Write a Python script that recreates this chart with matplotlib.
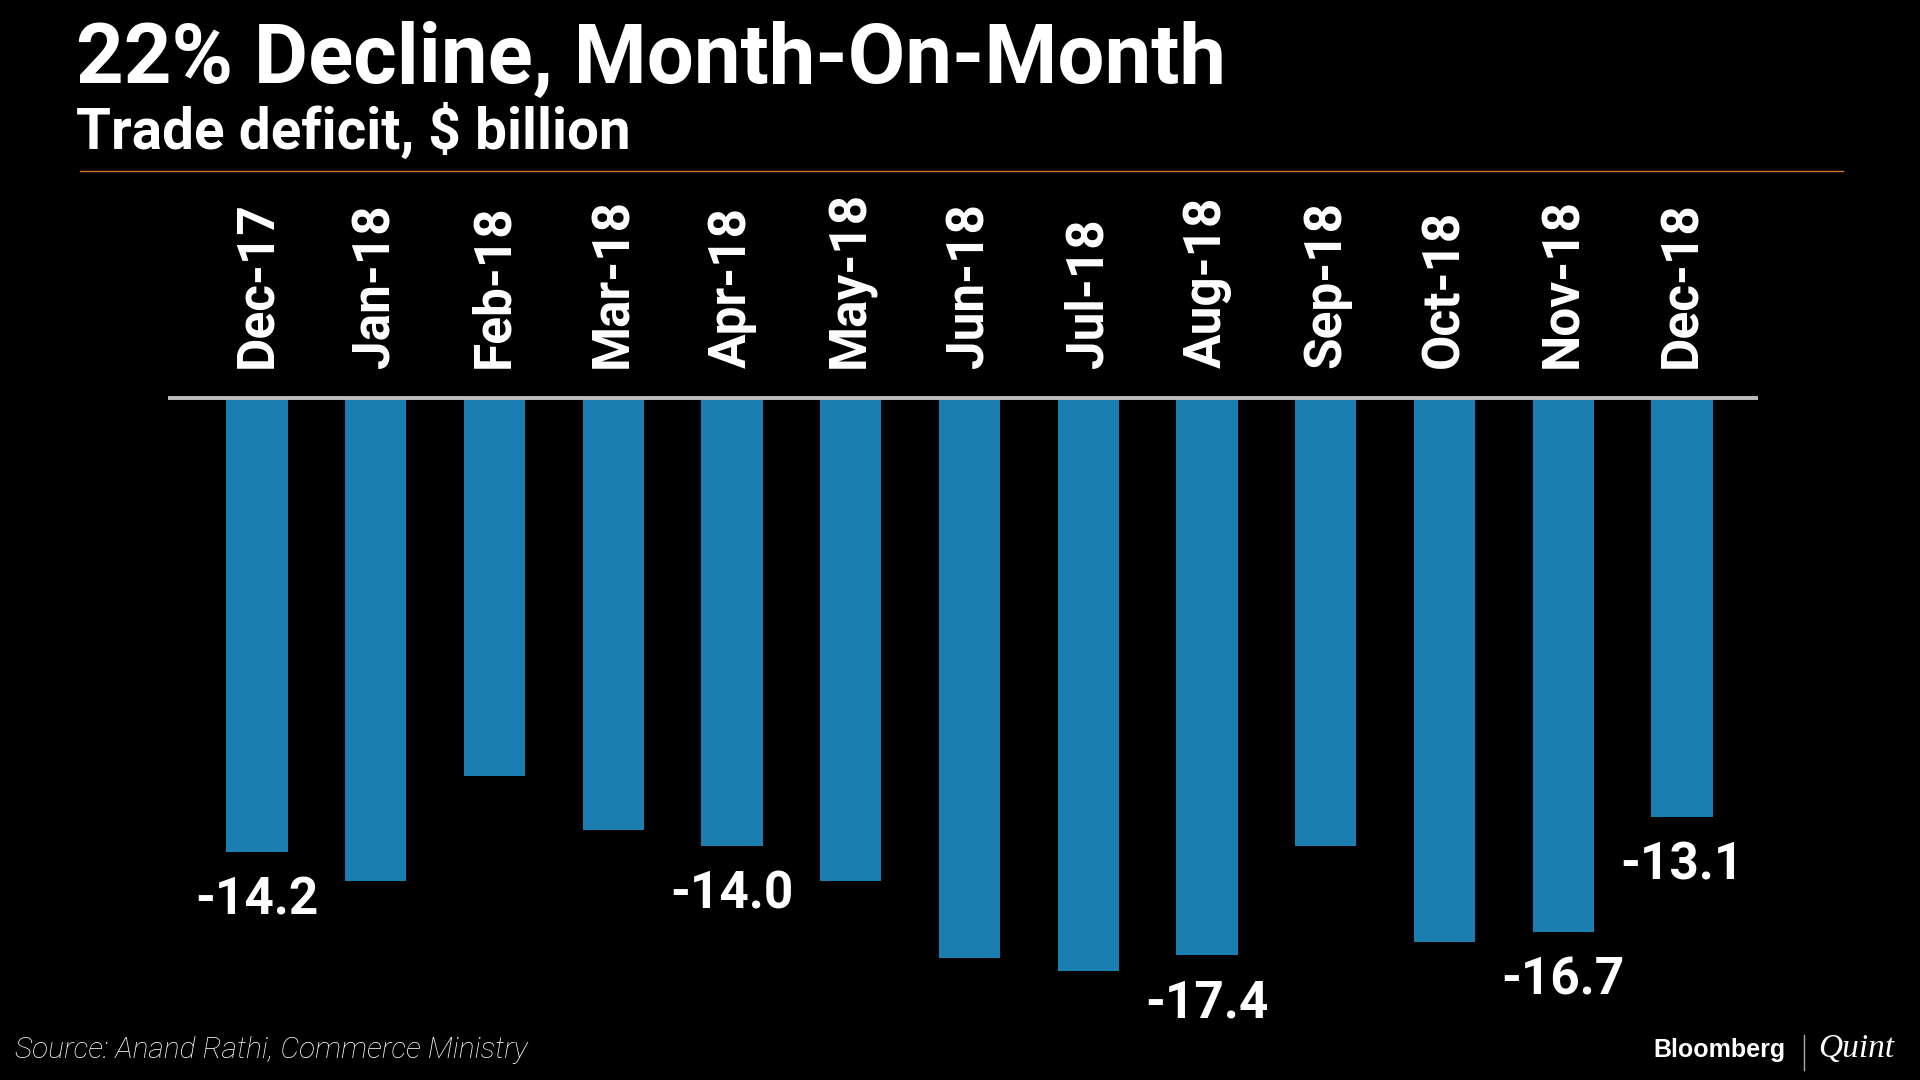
import matplotlib
matplotlib.use("Agg")
import matplotlib.pyplot as plt
from matplotlib.lines import Line2D

months = ["Dec-17", "Jan-18", "Feb-18", "Mar-18", "Apr-18", "May-18", "Jun-18",
          "Jul-18", "Aug-18", "Sep-18", "Oct-18", "Nov-18", "Dec-18"]
deficit = [-14.2, -15.1, -11.8, -13.5, -14.0, -15.1, -17.5,
           -17.9, -17.4, -14.0, -17.0, -16.7, -13.1]
labelled = ["Dec-17", "Apr-18", "Aug-18", "Nov-18", "Dec-18"]

title = "22% Decline, Month-On-Month"
subtitle = "Trade deficit, $ billion"
source = "Source: Anand Rathi, Commerce Ministry"

BG = "#000000"
BAR = "#1A7EB1"
W, H = 1920, 1080

fig = plt.figure(figsize=(19.2, 10.8), dpi=100, facecolor=BG)

# axes: x from px 168 to 1758, y from px 170 to 1080
ax = fig.add_axes([168 / W, 0, 1590 / W, (1080 - 170) / H])
ax.set_facecolor(BG)
ax.set_xlim(-0.75, 12.64)
ax.set_ylim(-21.31, 7.125)
ax.axis("off")

x = list(range(len(months)))
ax.bar(x, deficit, width=0.515, color=BAR, zorder=2)
ax.axhline(0, color="#BEBEBE", lw=2.8, zorder=3)

for xi, m, v in zip(x, months, deficit):
    ax.text(xi, 0.95, m, rotation=90, ha="center", va="bottom",
            color="white", fontsize=37, fontweight="bold", family="Roboto",
            clip_on=False)
    if m in labelled:
        ax.text(xi, v - 1.95, f"{v:.1f}", ha="center", va="baseline",
                color="white", fontsize=37, fontweight="bold", family="Roboto",
                clip_on=False)

# titles
fig.text(76 / W, 1 - 83 / H, title, color="white", fontsize=60,
         fontweight="bold", family="Roboto", va="baseline", ha="left")
fig.text(76 / W, 1 - 149 / H, subtitle, color="white", fontsize=40.8,
         fontweight="bold", family="Roboto", va="baseline", ha="left")

fig.add_artist(Line2D([80 / W, 1843 / W], [1 - 171 / H, 1 - 171 / H],
                      color="#C8782A", lw=1.0))

# footer
fig.text(15 / W, 1 - 1058 / H, source, color="white", fontsize=21.5,
         style="italic", fontweight="light", family="Roboto",
         va="baseline", ha="left")
fig.text(1653 / W, 1 - 1057 / H, "Bloomberg", color="white", fontsize=18,
         fontweight="bold", family="Liberation Sans", va="baseline", ha="left")
fig.add_artist(Line2D([1804 / W, 1804 / W], [1 - 1035 / H, 1 - 1070 / H],
                      color="#AAAAAA", lw=1.0))
fig.text(1818 / W, 1 - 1057 / H, "Quint", color="white", fontsize=24,
         style="italic", family="Liberation Serif", va="baseline", ha="left")

fig.savefig("out.png", dpi=100, facecolor=BG)
